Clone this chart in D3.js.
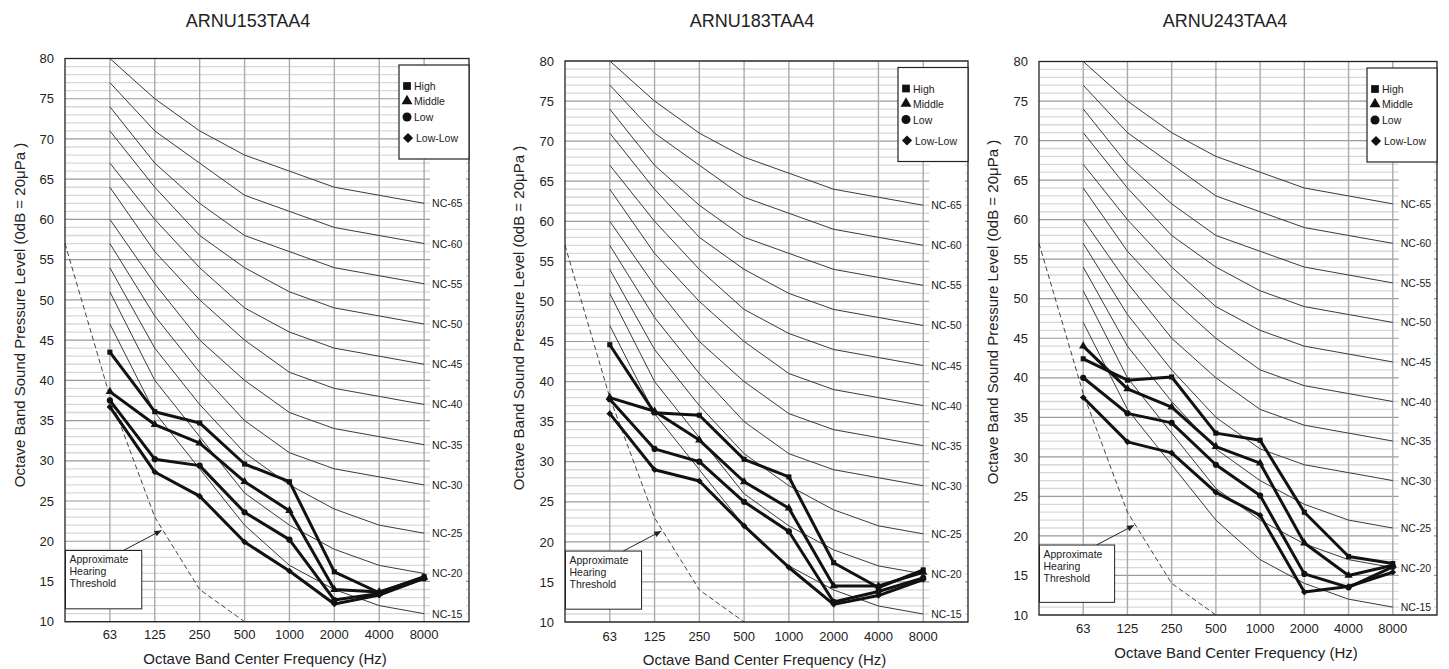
<!DOCTYPE html>
<html>
<head>
<meta charset="utf-8">
<script src="https://cdn.jsdelivr.net/npm/d3@7"></script>
<style>
  html, body { margin: 0; padding: 0; background: #fff; }
  svg { display: block; }
  text { font-family: "Liberation Sans", Arial, sans-serif; fill: #222; }
</style>
</head>
<body>
<svg id="chart" width="1449" height="669"></svg>
<script>
// Octave band centre frequencies (x categories)
const freqLabels = ["63", "125", "250", "500", "1000", "2000", "4000", "8000"];
const yTicks = [10, 15, 20, 25, 30, 35, 40, 45, 50, 55, 60, 65, 70, 75, 80];

// Noise Criterion reference curves, dB per octave band 63..8000 Hz
const ncNames = ["NC-15", "NC-20", "NC-25", "NC-30", "NC-35", "NC-40", "NC-45", "NC-50", "NC-55", "NC-60", "NC-65"];
const ncCurves = [
  [47, 36, 29, 22, 17, 14, 12, 11],
  [51, 40, 33, 26, 22, 19, 17, 16],
  [54, 44, 37, 31, 27, 24, 22, 21],
  [57, 48, 41, 35, 31, 29, 28, 27],
  [60, 52, 45, 40, 36, 34, 33, 32],
  [64, 56, 50, 45, 41, 39, 38, 37],
  [67, 60, 54, 49, 46, 44, 43, 42],
  [71, 64, 58, 54, 51, 49, 48, 47],
  [74, 67, 62, 58, 56, 54, 53, 52],
  [77, 71, 67, 63, 61, 59, 58, 57],
  [80, 75, 71, 68, 66, 64, 63, 62]
];

// Approximate hearing threshold (band index -1 is the left edge of the grid)
const thresholdBands = [-1, 0, 1, 2, 3];
const thresholdLevels = [57, 38, 23, 14, 10];

// Fan speed steps
const speedNames = ["High", "Middle", "Low", "Low-Low"];

// ARNU153TAA4
const arnu153High   = [43.5, 36.1, 34.7, 29.6, 27.4, 16.2, 13.6, 15.6];
const arnu153Middle = [38.6, 34.5, 32.2, 27.4, 23.8, 14.0, 13.7, 15.5];
const arnu153Low    = [37.5, 30.2, 29.4, 23.6, 20.2, 12.7, 13.5, 15.4];
const arnu153LowLow = [36.7, 28.6, 25.6, 19.9, 16.3, 12.2, 13.3, 15.4];

// ARNU183TAA4
const arnu183High   = [44.6, 36.1, 35.8, 30.3, 28.1, 17.4, 14.3, 16.5];
const arnu183Middle = [38.0, 36.3, 32.7, 27.5, 24.2, 14.5, 14.5, 16.2];
const arnu183Low    = [37.8, 31.6, 30.0, 25.0, 21.3, 12.5, 13.8, 15.5];
const arnu183LowLow = [36.0, 29.0, 27.6, 22.0, 16.8, 12.2, 13.3, 15.3];

// ARNU243TAA4
const arnu243High   = [42.4, 39.7, 40.1, 33.0, 32.1, 23.0, 17.4, 16.5];
const arnu243Middle = [44.0, 38.6, 36.3, 31.3, 29.2, 19.1, 15.0, 16.3];
const arnu243Low    = [40.0, 35.5, 34.3, 29.0, 25.1, 15.2, 13.5, 16.1];
const arnu243LowLow = [37.5, 31.9, 30.5, 25.5, 22.6, 12.9, 13.6, 15.4];

const panels = [
  { title: "ARNU153TAA4", series: [arnu153High, arnu153Middle, arnu153Low, arnu153LowLow],
    left: 65, right: 469, top: 58.5, bottom: 621.7, titleX: 248, yTitleX: 19, yTitleY: 315,
    xTickY: 639, xTitleY: 664 },
  { title: "ARNU183TAA4", series: [arnu183High, arnu183Middle, arnu183Low, arnu183LowLow],
    left: 565, right: 968, top: 61, bottom: 622, titleX: 752, yTitleX: 518, yTitleY: 318,
    xTickY: 641, xTitleY: 665 },
  { title: "ARNU243TAA4", series: [arnu243High, arnu243Middle, arnu243Low, arnu243LowLow],
    left: 1039, right: 1437, top: 61.5, bottom: 615, titleX: 1225, yTitleX: 992, yTitleY: 312,
    xTickY: 633, xTitleY: 658 }
];

// square turned 45 degrees, equal width and height
const symbolRhomb = {
  draw(context, size) {
    const r = Math.sqrt(size / 2);
    context.moveTo(0, -r);
    context.lineTo(r, 0);
    context.lineTo(0, r);
    context.lineTo(-r, 0);
    context.closePath();
  }
};

const symbols = [d3.symbolSquare, d3.symbolTriangle, d3.symbolCircle, symbolRhomb];
const markSizes = [26, 30, 30, 22];
const legendSizes = [60, 52, 64, 52];

const svg = d3.select("#chart");

panels.forEach(p => {
  const g = svg.append("g");
  const x = d3.scaleLinear().domain([-1, 8]).range([p.left, p.right]);
  const y = d3.scaleLinear().domain([10, 80]).range([p.bottom, p.top]);
  const bands = d3.range(freqLabels.length);

  // title
  g.append("text").attr("x", p.titleX).attr("y", 27).attr("text-anchor", "middle")
    .style("font-size", "18px").text(p.title);

  // horizontal grid: 1 dB minor, 5 dB major
  const grid = g.append("g");
  grid.selectAll("line.minor").data(d3.range(11, 80).filter(v => v % 5 !== 0)).join("line")
    .attr("x1", p.left).attr("x2", p.right)
    .attr("y1", d => y(d)).attr("y2", d => y(d))
    .attr("stroke", "#d8d8d8").attr("stroke-width", 1.3);
  grid.selectAll("line.major").data(yTicks).join("line")
    .attr("x1", p.left).attr("x2", p.right)
    .attr("y1", d => y(d)).attr("y2", d => y(d))
    .attr("stroke", "#9a9a9a").attr("stroke-width", 1.2);

  // blank strip for the NC labels
  g.append("rect").attr("x", x(7) + 6).attr("y", p.top + 1)
    .attr("width", p.right - 3 - (x(7) + 6)).attr("height", p.bottom - p.top - 2)
    .attr("fill", "#fff");

  // vertical grid at each band
  g.selectAll("line.band").data(bands).join("line")
    .attr("x1", d => x(d)).attr("x2", d => x(d))
    .attr("y1", p.top).attr("y2", p.bottom)
    .attr("stroke", "#aaaaaa").attr("stroke-width", 1.4);

  // NC curves
  const ncLine = d3.line().x((d, i) => x(i)).y(d => y(d));
  g.selectAll("path.nc").data(ncCurves).join("path")
    .attr("d", ncLine).attr("fill", "none")
    .attr("stroke", "#3a3a3a").attr("stroke-width", 1);
  g.selectAll("text.nc").data(ncCurves).join("text")
    .attr("x", x(7) + 8).attr("y", d => y(d[7]) + 4)
    .style("font-size", "10.5px").text((d, i) => ncNames[i]);

  // hearing threshold
  const thrLine = d3.line().x(d => x(d[0])).y(d => y(d[1]));
  g.append("path").datum(thresholdBands.map((b, i) => [b, thresholdLevels[i]]))
    .attr("d", thrLine).attr("fill", "none")
    .attr("stroke", "#444").attr("stroke-width", 1).attr("stroke-dasharray", "5,3");

  // frame
  g.append("rect").attr("x", p.left).attr("y", p.top)
    .attr("width", p.right - p.left).attr("height", p.bottom - p.top)
    .attr("fill", "none").attr("stroke", "#222").attr("stroke-width", 1.3);

  // y axis
  const ya = g.append("g").attr("transform", `translate(${p.left},0)`)
    .call(d3.axisLeft(y).tickValues(yTicks).tickSize(0).tickPadding(11));
  ya.select(".domain").remove();
  ya.selectAll("text").style("font-size", "13px").style("font-family", "Liberation Sans, Arial, sans-serif").attr("fill", "#222");

  // x axis labels
  g.selectAll("text.xt").data(bands).join("text")
    .attr("x", d => x(d)).attr("y", p.xTickY).attr("text-anchor", "middle")
    .style("font-size", "13px").text(d => freqLabels[d]);

  // axis titles
  g.append("text").attr("x", (p.left + p.right) / 2 - 2).attr("y", p.xTitleY)
    .attr("text-anchor", "middle").style("font-size", "15px")
    .text("Octave Band Center Frequency (Hz)");
  g.append("text")
    .attr("transform", `translate(${p.yTitleX},${p.yTitleY}) rotate(-90)`)
    .attr("text-anchor", "middle").attr("dominant-baseline", "central")
    .style("font-size", "15px")
    .text("Octave Band Sound Pressure Level (0dB = 20\u03bcPa )");

  // measured spectra
  const dataLine = d3.line().x((d, i) => x(i)).y(d => y(d));
  p.series.forEach(s => {
    g.append("path").datum(s).attr("d", dataLine).attr("fill", "none")
      .attr("stroke", "#111").attr("stroke-width", 3).attr("stroke-linejoin", "round");
  });
  p.series.forEach((s, k) => {
    g.selectAll(null).data(s).join("path")
      .attr("transform", (d, i) => `translate(${x(i)},${y(d)})`)
      .attr("d", d3.symbol(symbols[k], markSizes[k]))
      .attr("fill", "#111");
  });

  // legend
  const lg = g.append("g").attr("transform", `translate(${p.right - 70},${p.top + 6.5})`);
  lg.append("rect").attr("width", 70).attr("height", 94)
    .attr("fill", "#fff").attr("stroke", "#222").attr("stroke-width", 1.2);
  const rowY = [21, 36, 52, 73];
  speedNames.forEach((name, k) => {
    lg.append("path").attr("transform", `translate(${k === 3 ? 9 : 8},${rowY[k]})`)
      .attr("d", d3.symbol(symbols[k], legendSizes[k])).attr("fill", "#111");
    lg.append("text").attr("x", k === 3 ? 17 : 15).attr("y", rowY[k] + 4)
      .style("font-size", "10.5px").text(name);
  });

  // hearing threshold note
  const bx0 = x(-1) + 0.5, bx1 = x(0.71), by0 = y(18.85), by1 = y(11.6);
  const ax0 = x(0.3), ay0 = y(18.85), ax1 = x(1.15), ay1 = y(21.35);
  g.append("line").attr("x1", ax0).attr("y1", ay0).attr("x2", ax1).attr("y2", ay1)
    .attr("stroke", "#222").attr("stroke-width", 1);
  const ang = Math.atan2(ay1 - ay0, ax1 - ax0);
  const hl = 7, hw = 3;
  const hx = ax1, hy = ay1;
  const bxp = hx - hl * Math.cos(ang), byp = hy - hl * Math.sin(ang);
  g.append("path")
    .attr("d", `M${hx},${hy}L${bxp + hw * Math.sin(ang)},${byp - hw * Math.cos(ang)}L${bxp - hw * Math.sin(ang)},${byp + hw * Math.cos(ang)}Z`)
    .attr("fill", "#222");
  g.append("rect").attr("x", bx0).attr("y", by0).attr("width", bx1 - bx0).attr("height", by1 - by0)
    .attr("fill", "#fff").attr("stroke", "#222").attr("stroke-width", 1);
  ["Approximate", "Hearing", "Threshold"].forEach((t, i) => {
    g.append("text").attr("x", bx0 + 4).attr("y", by0 + 13 + i * 12)
      .style("font-size", "10.5px").text(t);
  });
});
</script>
</body>
</html>
